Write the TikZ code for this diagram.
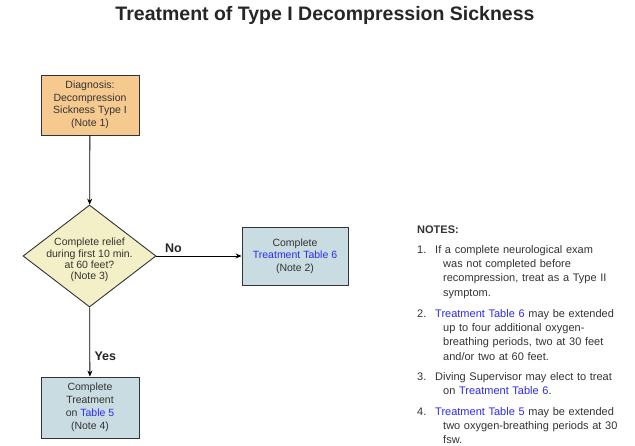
\documentclass[tikz,border=0pt]{standalone}
\usepackage{fontspec}
\setmainfont{Liberation Sans}
\usetikzlibrary{shapes.geometric,arrows.meta}
\definecolor{diagfill}{HTML}{F6C98F}
\definecolor{decfill}{HTML}{F3EFC6}
\definecolor{treatfill}{HTML}{C9DCE2}
\definecolor{linkblue}{HTML}{2B2BF0}
\definecolor{edgegray}{HTML}{333333}
\newcommand{\lnk}[1]{\textcolor{linkblue}{#1}}
% continuation line of a note, set in by a hanging indent
\newcommand{\nl}{\\\hspace*{8pt}}
\tikzset{
  boxtext/.style={font=\fontsize{10.5}{12.5}\selectfont, align=center, text=black!80},
  stepbox/.style={boxtext, draw=edgegray, line width=0.9pt, minimum width=98pt, minimum height=60pt, inner sep=2pt},
  decision/.style={diamond, draw=edgegray, line width=0.9pt, fill=decfill, minimum width=133pt, minimum height=102pt, inner sep=0pt},
  flow/.style={draw=black, line width=0.8pt, -{Stealth[length=6pt,width=5pt]}},
  branch/.style={font=\bfseries\fontsize{12.5}{14}\selectfont, text=black!85},
  notetext/.style={font=\fontsize{11}{14.2}\selectfont, text=black!80},
  note/.style={notetext, anchor=base west, align=left, text width=195pt, inner sep=0pt},
}
\begin{document}
\begin{tikzpicture}[x=1pt,y=-1pt]
\useasboundingbox (0,0) rectangle (635,446);
\fill[white] (0,0) rectangle (635,446);

% title
\node[font=\bfseries\fontsize{19.5}{22}\selectfont, text=black!85] (title) at (325,15) {Treatment of Type I Decompression Sickness};

% flowchart
\node[stepbox, fill=diagfill] (diag) at (90,105) {Diagnosis:\\Decompression\\Sickness Type I\\(Note 1)};
\node[decision] (relief) at (89.5,256) {};
\node[boxtext, font=\fontsize{10.5}{11.3}\selectfont] (relieftext) at (89.5,260) {Complete relief\\during first 10 min.\\at 60 feet?\\(Note 3)};
\node[stepbox, fill=treatfill, minimum width=106pt, minimum height=58pt] (tt6) at (295,256) {Complete\\\lnk{Treatment Table 6}\\(Note 2)};
\node[stepbox, fill=treatfill, minimum height=61pt, font=\fontsize{10.5}{13}\selectfont] (tt5) at (90,407.5) {Complete\\Treatment\\on \lnk{Table 5}\\(Note 4)};

\draw[flow] (diag) -- (relief);
\draw[flow] (relief) -- node[branch, above, pos=0.2] {No} (tt6);
\draw[flow] (relief) -- node[branch, right, pos=0.7, xshift=1pt] {Yes} (tt5);

% notes
\node[font=\bfseries\fontsize{11}{12}\selectfont, text=black!80, anchor=base west, inner sep=0pt] (notes) at (417,234) {NOTES:};
\foreach \n/\y in {1/253.5,2/317.5,3/380.5,4/415.5}{
  \node[notetext, anchor=base west, inner sep=0pt] (num\n) at (417,\y) {\n.};
}
\node[note] (n1) at (435,253.5) {If a complete neurological exam\nl was not completed before\nl recompression, treat as a Type II\nl symptom.};
\node[note] (n2) at (435,317.5) {\lnk{Treatment Table 6} may be extended\nl up to four additional oxygen-\nl breathing periods, two at 30 feet\nl and/or two at 60 feet.};
\node[note] (n3) at (435,380.5) {Diving Supervisor may elect to treat\nl on \lnk{Treatment Table 6}.};
\node[note] (n4) at (435,415.5) {\lnk{Treatment Table 5} may be extended\nl two oxygen-breathing periods at 30\nl fsw.};
\end{tikzpicture}
\end{document}
